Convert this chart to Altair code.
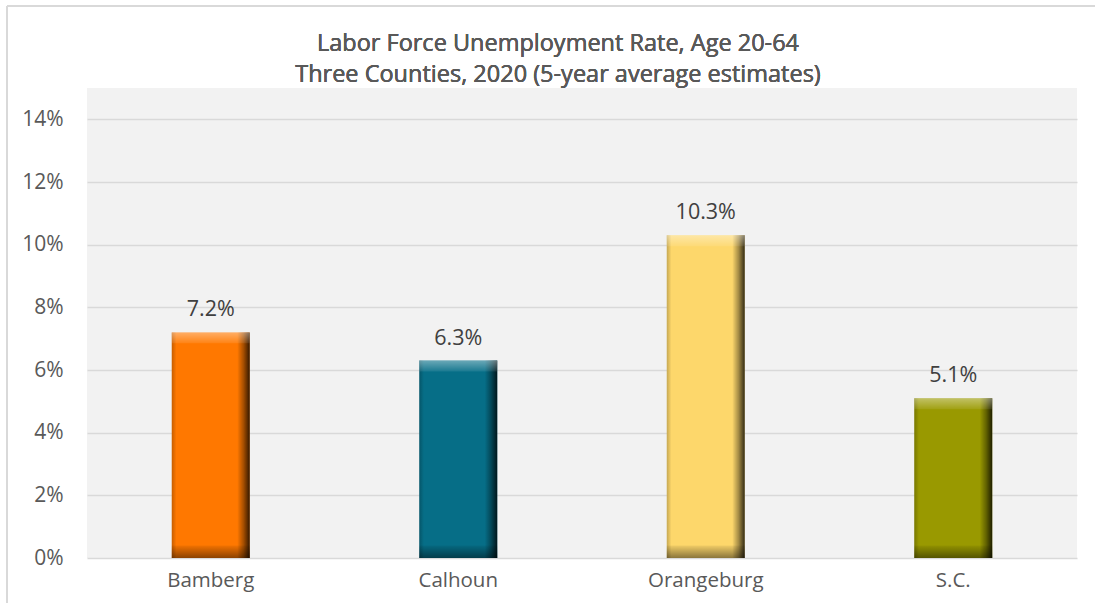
import altair as alt
import pandas as pd

categories = ["Bamberg", "Calhoun", "Orangeburg", "S.C."]
values = [0.072, 0.063, 0.103, 0.051]
colors = ["#FF7800", "#066E87", "#FDD76B", "#999900"]
y_ticks = [0, 0.02, 0.04, 0.06, 0.08, 0.10, 0.12, 0.14]
title_lines = ["Labor Force Unemployment Rate, Age 20-64",
               "Three Counties, 2020 (5-year average estimates)"]

df = pd.DataFrame({"county": categories, "rate": values})

FONT = "Open Sans"
TXT = "#595959"

x_enc = alt.X("county:N", sort=categories, title=None,
              scale=alt.Scale(paddingInner=0.685, paddingOuter=0.3425),
              axis=alt.Axis(labelFontSize=20.5, labelFont=FONT, labelColor=TXT,
                            labelPadding=12, ticks=False, domain=False,
                            labelAngle=0, grid=False))
y_scale = alt.Scale(domain=[0, 0.15], nice=False)

base = alt.Chart(df)

bars = base.mark_bar().encode(
    x=x_enc,
    y=alt.Y("rate:Q", scale=y_scale, title=None,
            axis=alt.Axis(values=y_ticks, format=".0%", labelFontSize=21,
                          labelFont=FONT, labelColor=TXT, labelPadding=24,
                          ticks=False, domain=False, gridColor="#D9D9D9",
                          gridWidth=1.5)),
    color=alt.Color("county:N", scale=alt.Scale(domain=categories, range=colors),
                    legend=None),
)

side_shade = base.mark_bar(
    color=alt.Gradient(
        gradient="linear", x1=0, x2=1, y1=0, y2=0,
        stops=[alt.GradientStop(color="rgba(0,0,0,0.22)", offset=0),
               alt.GradientStop(color="rgba(0,0,0,0)", offset=0.06),
               alt.GradientStop(color="rgba(0,0,0,0)", offset=0.84),
               alt.GradientStop(color="rgba(0,0,0,0.35)", offset=0.92),
               alt.GradientStop(color="rgba(0,0,0,0.8)", offset=1)])
).encode(x=alt.X("county:N", sort=categories), y=alt.Y("rate:Q", scale=y_scale))

top_hi = base.transform_calculate(top2="datum.rate - 0.0035").mark_bar(
    color=alt.Gradient(
        gradient="linear", x1=0, x2=0, y1=0, y2=1,
        stops=[alt.GradientStop(color="rgba(255,255,255,0.4)", offset=0),
               alt.GradientStop(color="rgba(255,255,255,0.08)", offset=1)])
).encode(x=alt.X("county:N", sort=categories),
         y=alt.Y("rate:Q", scale=y_scale), y2="top2:Q")

bottom_sh = base.transform_calculate(b0="0", b1="0.004").mark_bar(
    color=alt.Gradient(
        gradient="linear", x1=0, x2=0, y1=0, y2=1,
        stops=[alt.GradientStop(color="rgba(0,0,0,0.05)", offset=0),
               alt.GradientStop(color="rgba(0,0,0,0.45)", offset=1)])
).encode(x=alt.X("county:N", sort=categories),
         y=alt.Y("b1:Q", scale=y_scale), y2="b0:Q")

labels = base.mark_text(baseline="bottom", dy=-11, fontSize=21.5, font=FONT,
                        color="#404040").encode(
    x=alt.X("county:N", sort=categories),
    y=alt.Y("rate:Q", scale=y_scale),
    text=alt.Text("rate:Q", format=".1%"),
)

title1 = base.mark_text(fontSize=23.5, font=FONT, color=TXT, align="center",
                        baseline="middle").encode(
    x=alt.value(471), y=alt.value(-44), text=alt.value(title_lines[0]))
title2 = base.mark_text(fontSize=23.5, font=FONT, color=TXT, align="center",
                        baseline="middle").encode(
    x=alt.value(471), y=alt.value(-13), text=alt.value(title_lines[1]))

border_top = base.mark_rule(color="#D9D9D9", strokeWidth=1.5).encode(
    x=alt.value(-80), x2=alt.value(1010), y=alt.value(-82))
border_left = base.mark_rule(color="#D9D9D9", strokeWidth=1.5).encode(
    x=alt.value(-80), y=alt.value(-82), y2=alt.value(520))

chart = alt.layer(bars, side_shade, top_hi, bottom_sh, labels,
                  title1, title2, border_top, border_left).properties(
    width=990, height=470,
    background="white",
    autosize=alt.AutoSizeParams(type="none"),
    padding={"left": 87, "top": 88, "right": 18, "bottom": 45},
).configure_view(fill="#F2F2F2", stroke="transparent", strokeWidth=0)

chart.save("out.html", embed_options={"renderer": "svg", "actions": False})
